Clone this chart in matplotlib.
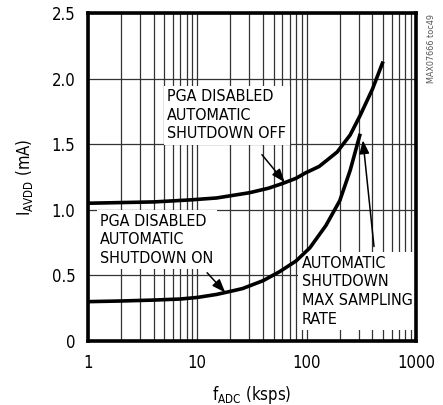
import matplotlib.pyplot as plt

plt.rcParams['font.family'] = ['DejaVu Sans']
plt.rcParams['font.stretch'] = 'condensed'

# curve readings (fADC in ksps, IAVDD in mA)
f_off = [1, 2, 4, 8.5, 15, 30, 45, 60, 80, 97, 130, 160, 190, 250, 309, 400, 500]
i_off = [1.05, 1.055, 1.06, 1.075, 1.09, 1.13, 1.165, 1.20, 1.24, 1.28, 1.33, 1.39, 1.44, 1.57, 1.72, 1.92, 2.13]

f_on = [1, 2, 4, 7, 10, 15, 20, 26, 40, 57, 80, 107, 150, 201, 250, 309]
i_on = [0.30, 0.305, 0.312, 0.32, 0.332, 0.355, 0.378, 0.40, 0.46, 0.53, 0.61, 0.71, 0.88, 1.07, 1.30, 1.58]

yticks = [0, 0.5, 1.0, 1.5, 2.0, 2.5]
ytick_labels = ['0', '0.5', '1.0', '1.5', '2.0', '2.5']
xticks = [1, 10, 100, 1000]
xtick_labels = ['1', '10', '100', '1000']

fs = 11.5

fig = plt.figure(figsize=(4.43, 4.05), dpi=100)
ax = fig.add_axes([0.1986, 0.158, 0.7404, 0.81])

ax.plot(f_off, i_off, color='black', lw=2.6, solid_capstyle='butt', zorder=3)
ax.plot(f_on, i_on, color='black', lw=2.6, solid_capstyle='butt', zorder=3)

ax.set_xscale('log')
ax.set_xlim(1, 1000)
ax.set_ylim(0, 2.5)
ax.set_xticks(xticks)
ax.set_xticklabels(xtick_labels)
ax.set_yticks(yticks)
ax.set_yticklabels(ytick_labels)
minor = [m * d for d in [1, 10, 100] for m in range(2, 10)]
ax.set_xticks(minor, minor=True)
ax.xaxis.set_minor_formatter(plt.NullFormatter())
ax.grid(True, which='both', color='#333333', lw=0.9)
ax.set_axisbelow(True)
ax.tick_params(which='both', length=0, labelsize=fs + 0.5, pad=9)
for s in ax.spines.values():
    s.set_linewidth(2.6)

ax.set_xlabel(r'f$_{\mathregular{ADC}}$ (ksps)', fontsize=fs + 0.5, labelpad=9)
ax.set_ylabel(r'I$_{\mathregular{AVDD}}$ (mA)', fontsize=fs + 0.5, labelpad=12)

box = dict(facecolor='white', edgecolor='none', pad=2.5)
txt = dict(fontsize=fs, va='top', ha='left', linespacing=1.3, bbox=box, zorder=2.2)
ax.text(5.3, 1.92, 'PGA DISABLED\nAUTOMATIC\nSHUTDOWN OFF', **txt)
ax.text(1.29, 0.97, 'PGA DISABLED\nAUTOMATIC\nSHUTDOWN ON', **txt)
ax.text(90, 0.65, 'AUTOMATIC\nSHUTDOWN\nMAX SAMPLING\nRATE', **txt)

arr = dict(arrowstyle='-|>,head_length=0.8,head_width=0.3', color='black', lw=1.1,
           shrinkA=0, shrinkB=0)
ax.annotate('', xy=(63, 1.21), xytext=(39, 1.42), arrowprops=arr, zorder=4)
ax.annotate('', xy=(18, 0.37), xytext=(12.3, 0.52), arrowprops=arr, zorder=4)
ax.annotate('', xy=(327, 1.53), xytext=(413, 0.72), arrowprops=arr, zorder=4)

fig.text(0.975, 0.965, 'MAX07666 toc49', rotation=90, fontsize=6.5,
         color='#555555', va='top', ha='center')

fig.savefig('out.png', dpi=100)
